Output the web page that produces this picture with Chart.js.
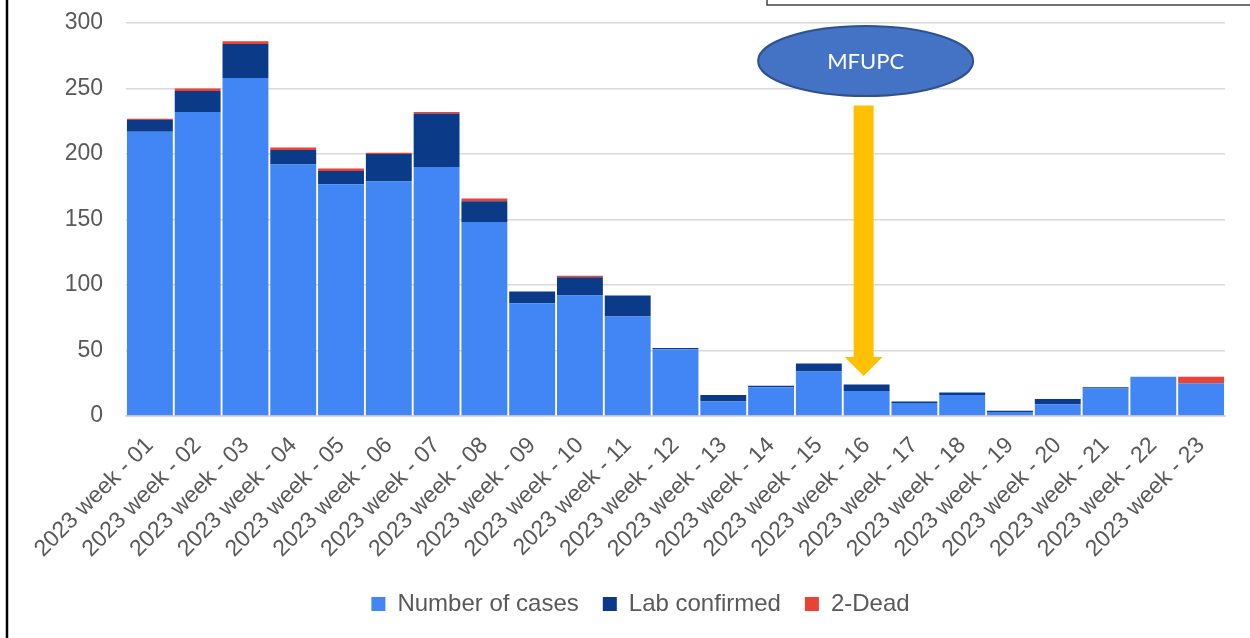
<!DOCTYPE html>
<html>
<head>
<meta charset="utf-8">
<script src="https://cdn.jsdelivr.net/npm/chart.js@4"></script>
<style>
  html, body { margin: 0; padding: 0; background: #fff; }
  #wrap { position: relative; width: 1250px; height: 638px; }
</style>
</head>
<body>
<div id="wrap"><canvas id="chart" width="1250" height="638"></canvas></div>
<script>
const weeks = ['2023 week - 01', '2023 week - 02', '2023 week - 03', '2023 week - 04', '2023 week - 05',
  '2023 week - 06', '2023 week - 07', '2023 week - 08', '2023 week - 09', '2023 week - 10',
  '2023 week - 11', '2023 week - 12', '2023 week - 13', '2023 week - 14', '2023 week - 15',
  '2023 week - 16', '2023 week - 17', '2023 week - 18', '2023 week - 19', '2023 week - 20',
  '2023 week - 21', '2023 week - 22', '2023 week - 23'];
const numberOfCases = [217, 232, 258, 192, 177, 179, 190, 148, 86, 92, 76, 51, 11, 22, 34, 19, 10, 16, 3, 9, 21, 30, 25];
const labConfirmed = [9, 16, 26, 11, 10, 21, 41, 16, 9, 14, 16, 1, 5, 1, 6, 5, 1, 2, 1, 4, 1, 0, 0];
const dead = [1, 2, 2, 2, 2, 1, 1, 2, 0, 1, 0, 0, 0, 0, 0, 0, 0, 0, 0, 0, 0, 0, 5];
const yTicks = [0, 50, 100, 150, 200, 250, 300];

// annotation: MFUPC ellipse + arrow pointing at week 16
const annotation = { label: 'MFUPC', index: 15, ellipseY: 271, arrowTop: 237, headStart: 45, arrowTip: 30.5 };

const textColor = '#595959';
const font = { family: '"Liberation Sans", Arial, sans-serif', size: 23 };

const decorations = {
  id: 'decorations',
  afterLayout(chart) {
    // legend is centred on the whole picture in the original
    chart.legend.left += 28;
    chart.legend.right += 28;
  },
  afterDraw(chart) {
    const ctx = chart.ctx;
    const x = chart.scales.x, y = chart.scales.y;
    const step = x.getPixelForValue(1) - x.getPixelForValue(0);
    const cx = x.getPixelForValue(annotation.index);
    ctx.save();
    // document frame pieces
    ctx.strokeStyle = '#000';
    ctx.lineWidth = 2.5;
    ctx.beginPath();
    ctx.moveTo(7, 0); ctx.lineTo(7, 638);
    ctx.stroke();
    ctx.strokeStyle = '#444';
    ctx.lineWidth = 1.5;
    ctx.beginPath();
    ctx.moveTo(767, -2); ctx.lineTo(767, 5); ctx.lineTo(1252, 5);
    ctx.stroke();

    // arrow
    const ax = cx - 3;
    const top = y.getPixelForValue(annotation.arrowTop);
    const hs = y.getPixelForValue(annotation.headStart);
    const tip = y.getPixelForValue(annotation.arrowTip);
    ctx.fillStyle = '#FFC000';
    ctx.beginPath();
    ctx.moveTo(ax - 10, top);
    ctx.lineTo(ax + 10, top);
    ctx.lineTo(ax + 10, hs);
    ctx.lineTo(ax + 19, hs);
    ctx.lineTo(ax, tip);
    ctx.lineTo(ax - 19, hs);
    ctx.lineTo(ax - 10, hs);
    ctx.closePath();
    ctx.fill();

    // ellipse
    const ey = y.getPixelForValue(annotation.ellipseY);
    ctx.beginPath();
    ctx.ellipse(cx - 1, ey, step * 2.25, 35, 0, 0, Math.PI * 2);
    ctx.fillStyle = '#4472C4';
    ctx.fill();
    ctx.strokeStyle = '#2F528F';
    ctx.lineWidth = 2;
    ctx.stroke();
    ctx.fillStyle = '#fff';
    ctx.font = '22px Lato, "Open Sans", sans-serif';
    ctx.textAlign = 'center';
    ctx.textBaseline = 'middle';
    ctx.fillText(annotation.label, cx - 1, ey + 1);
    ctx.restore();
  }
};

new Chart(document.getElementById('chart'), {
  type: 'bar',
  data: {
    labels: weeks,
    datasets: [
      { label: 'Number of cases', data: numberOfCases, backgroundColor: '#4285F4' },
      { label: 'Lab confirmed', data: labConfirmed, backgroundColor: '#0B3A88' },
      { label: '2-Dead', data: dead, backgroundColor: '#EA4335' }
    ]
  },
  options: {
    responsive: false,
    animation: false,
    datasets: { bar: { barPercentage: 0.96, categoryPercentage: 1.0 } },
    layout: { padding: { left: 0, right: 25, top: 23, bottom: 12 } },
    scales: {
      x: {
        stacked: true,
        grid: { display: false },
        border: { color: '#D9D9D9', width: 2 },
        ticks: { color: textColor, font: font, minRotation: 45, maxRotation: 45, padding: 8, autoSkip: false },
        afterFit(scale) { scale.height = 152; }
      },
      y: {
        stacked: true,
        min: 0, max: 300,
        afterBuildTicks(scale) { scale.ticks = yTicks.map(v => ({ value: v })); },
        grid: { color: '#D9D9D9', lineWidth: 1.5, drawTicks: false },
        border: { display: false },
        ticks: { color: textColor, font: font, padding: 23 },
        afterFit(scale) { scale.width = 126; scale.paddingTop = 0; scale.paddingBottom = 0; }
      }
    },
    plugins: {
      legend: {
        position: 'bottom',
        labels: { color: textColor, font: { family: font.family, size: 24 }, boxWidth: 14, boxHeight: 14, padding: 24, useBorderRadius: false }
      },
      tooltip: { enabled: false }
    }
  },
  plugins: [decorations]
});
</script>
</body>
</html>
